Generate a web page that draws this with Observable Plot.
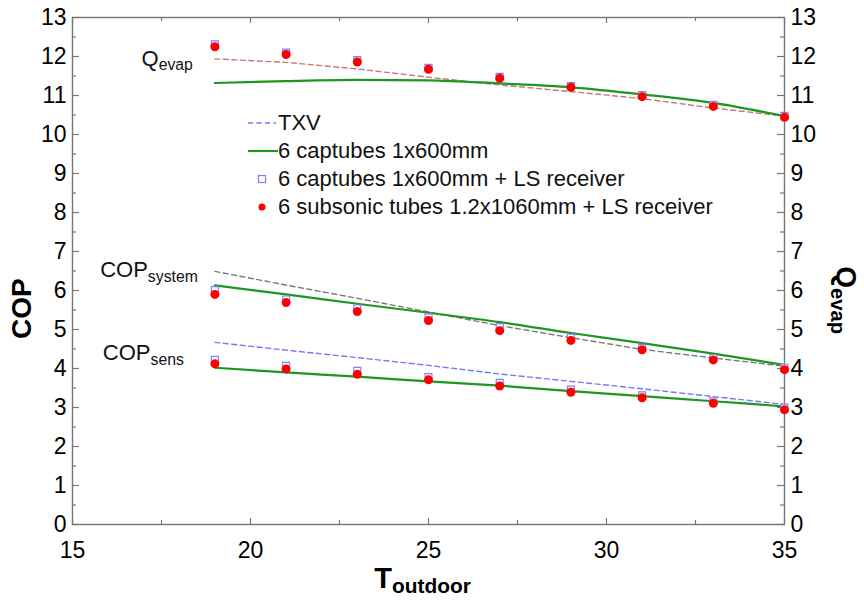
<!DOCTYPE html>
<html>
<head>
<meta charset="utf-8">
<script src="https://cdn.jsdelivr.net/npm/d3@7"></script>
<script src="https://cdn.jsdelivr.net/npm/@observablehq/plot@0.6"></script>
<style>
  html, body { margin: 0; padding: 0; background: #fff; }
  #wrap { position: relative; width: 864px; height: 605px; }
  #legend { position: absolute; left: 248px; top: 109px; font-family: "Liberation Sans", Arial, sans-serif; font-size: 22px; color: #111; }
  #legend .row { display: flex; align-items: center; height: 28px; white-space: nowrap; }
  #legend svg { flex: none; }
</style>
</head>
<body>
<div id="wrap"></div>
<script>
// ---- data ----
const temps = [19, 21, 23, 25, 27, 29, 31, 33, 35];

const qevapTXV   = [11.94, 11.85, 11.68, 11.47, 11.27, 11.10, 10.92, 10.68, 10.47];
const qevapCap   = [11.32, 11.37, 11.40, 11.39, 11.31, 11.21, 11.03, 10.81, 10.47];
const qevapCapLS = [12.31, 12.10, 11.91, 11.71, 11.48, 11.24, 11.01, 10.76, 10.48];
const qevapSub   = [12.25, 12.05, 11.86, 11.67, 11.44, 11.21, 10.97, 10.72, 10.44];

const copSysTXV   = [6.49, 6.14, 5.80, 5.45, 5.10, 4.79, 4.49, 4.27, 4.06];
const copSysCap   = [6.13, 5.90, 5.66, 5.43, 5.19, 4.91, 4.65, 4.38, 4.09];
const copSysCapLS = [6.01, 5.77, 5.54, 5.31, 5.06, 4.79, 4.53, 4.27, 4.02];
const copSysSub   = [5.90, 5.69, 5.46, 5.23, 4.97, 4.72, 4.48, 4.22, 3.97];

const copSensTXV   = [4.67, 4.47, 4.28, 4.08, 3.86, 3.67, 3.48, 3.28, 3.08];
const copSensCap   = [4.02, 3.90, 3.79, 3.67, 3.56, 3.42, 3.29, 3.16, 3.03];
const copSensCapLS = [4.22, 4.07, 3.94, 3.78, 3.63, 3.46, 3.31, 3.16, 3.00];
const copSensSub   = [4.12, 3.99, 3.85, 3.71, 3.55, 3.39, 3.25, 3.11, 2.94];

const yTicks = d3.range(0, 14);
const yMinor = d3.range(0.5, 13, 1);
const xTicks = [15, 20, 25, 30, 35];
const xMinor = [17.5, 22.5, 27.5, 32.5];

const curveLabels = ["Q_evap", "COP_system", "COP_sens"];
const legendLabels = ["TXV", "6 captubes 1x600mm", "6 captubes 1x600mm + LS receiver", "6 subsonic tubes 1.2x1060mm + LS receiver"];
const xLabel = "T_outdoor";
const yLabel = "COP";
const y2Label = "Q_evap";

// ---- build ----
const rows = arr => temps.map((t, i) => ({t, v: arr[i]}));

const W = 864, H = 605, ML = 72, MR = 80, MT = 17, MB = 81;
const PW = W - ML - MR, PH = H - MT - MB;
const axisColor = "#777";
const green = "#1f961f";
const dash = "5,3.5";

function annotation(series, label, dx, dy) {
  return Plot.text([{t: temps[0], v: series[0], label}], {
    x: "t", y: "v", text: "label", dx, dy,
    textAnchor: "end", lineAnchor: "middle", fontSize: 22, fill: "#111"
  });
}

const chart = Plot.plot({
  width: W, height: H,
  marginLeft: ML, marginRight: MR, marginTop: MT, marginBottom: MB,
  x: {domain: [15, 35]},
  y: {domain: [0, 13]},
  style: {fontFamily: "'Liberation Sans', Arial, sans-serif", fontSize: "23px", color: "#000", background: "#fff"},
  marks: [
    // inward ticks
    Plot.ruleY(yTicks, {y: d => d, insetRight: PW - 7, stroke: axisColor, strokeWidth: 1.2}),
    Plot.ruleY(yMinor, {y: d => d, insetRight: PW - 4, stroke: axisColor, strokeWidth: 1.2}),
    Plot.ruleY(yTicks, {y: d => d, insetLeft: PW - 7, stroke: axisColor, strokeWidth: 1.2}),
    Plot.ruleY(yMinor, {y: d => d, insetLeft: PW - 4, stroke: axisColor, strokeWidth: 1.2}),
    Plot.ruleX(xTicks, {x: d => d, insetTop: PH - 6, stroke: axisColor, strokeWidth: 1.2}),
    Plot.ruleX(xMinor, {x: d => d, insetTop: PH - 4, stroke: axisColor, strokeWidth: 1.2}),
    Plot.ruleX(xTicks, {x: d => d, insetBottom: PH - 6, stroke: axisColor, strokeWidth: 1.2}),
    Plot.ruleX(xMinor, {x: d => d, insetBottom: PH - 4, stroke: axisColor, strokeWidth: 1.2}),
    Plot.frame({stroke: axisColor, strokeWidth: 1.4}),
    Plot.axisY({ticks: yTicks, anchor: "left", tickSize: 0, tickPadding: 6, label: null, fontSize: 23}),
    Plot.axisY({ticks: yTicks, anchor: "right", tickSize: 0, tickPadding: 6, label: null, fontSize: 23}),
    Plot.axisX({ticks: xTicks, anchor: "bottom", tickSize: 0, tickPadding: 17, label: null, fontSize: 23}),

    // TXV dashed
    Plot.line(rows(qevapTXV),   {x: "t", y: "v", stroke: "#c97878", strokeWidth: 1.4, strokeDasharray: dash}),
    Plot.line(rows(copSysTXV),  {x: "t", y: "v", stroke: "#7a7a7a", strokeWidth: 1.4, strokeDasharray: dash}),
    Plot.line(rows(copSensTXV), {x: "t", y: "v", stroke: "#7878f5", strokeWidth: 1.4, strokeDasharray: dash}),

    // captubes green
    Plot.line(rows(qevapCap),   {x: "t", y: "v", stroke: green, strokeWidth: 2.2, curve: "monotone-x"}),
    Plot.line(rows(copSysCap),  {x: "t", y: "v", stroke: green, strokeWidth: 2.2, curve: "monotone-x"}),
    Plot.line(rows(copSensCap), {x: "t", y: "v", stroke: green, strokeWidth: 2.2, curve: "monotone-x"}),

    // captubes + LS receiver (open squares)
    ...[qevapCapLS, copSysCapLS, copSensCapLS].map(a =>
      Plot.dot(rows(a), {x: "t", y: "v", symbol: "square", r: 3.9, stroke: "#7f7fff", strokeWidth: 1.2, fill: "#fff"})),

    // subsonic tubes (red dots)
    ...[qevapSub, copSysSub, copSensSub].map(a =>
      Plot.dot(rows(a), {x: "t", y: "v", r: 4.5, fill: "#ff0000", stroke: "none"})),

    // curve annotations
    annotation(qevapTXV, curveLabels[0], -22, 0),
    annotation(copSysTXV, curveLabels[1], -17, -1),
    annotation(copSensTXV, curveLabels[2], -31, 11),

    // axis titles
    Plot.text([yLabel], {frameAnchor: "left", dx: -50, dy: 68, rotate: -90, fontWeight: "bold", fontSize: 28, fill: "#000"}),
    Plot.text([y2Label], {frameAnchor: "right", dx: 61, dy: 63, rotate: 90, fontWeight: "bold", fontSize: 28, fill: "#000"}),
    Plot.text([xLabel], {frameAnchor: "bottom", dx: -6, dy: 63, fontWeight: "bold", fontSize: 29, fill: "#000"})
  ]
});

const wrap = document.getElementById("wrap");
wrap.appendChild(chart);

// subscripts: split "base_sub" into two tspans
const NS = "http://www.w3.org/2000/svg";
chart.querySelectorAll("text").forEach(t => {
  const s = t.textContent;
  if (!s.includes("_")) return;
  const [a, b] = s.split("_");
  const fs = parseFloat(getComputedStyle(t).fontSize) || 22;
  t.textContent = "";
  const t1 = document.createElementNS(NS, "tspan");
  t1.textContent = a;
  const t2 = document.createElementNS(NS, "tspan");
  t2.textContent = b;
  t2.setAttribute("font-size", (fs * 0.72).toFixed(1));
  t2.setAttribute("dy", (fs * 0.2).toFixed(1));
  t.appendChild(t1);
  t.appendChild(t2);
});

// legend
const legend = document.createElement("div");
legend.id = "legend";
const mk = (tag, attrs) => { const e = document.createElementNS(NS, tag); for (const k in attrs) e.setAttribute(k, attrs[k]); return e; };
const symbols = [
  g => g.appendChild(mk("line", {x1: 0, x2: 28, y1: 14, y2: 14, stroke: "#7878f5", "stroke-width": 1.4, "stroke-dasharray": dash})),
  g => g.appendChild(mk("line", {x1: 0, x2: 30, y1: 14, y2: 14, stroke: green, "stroke-width": 2.2})),
  g => g.appendChild(mk("rect", {x: 10.5, y: 10.5, width: 7, height: 7, fill: "#fff", stroke: "#7f7fff", "stroke-width": 1.2})),
  g => g.appendChild(mk("circle", {cx: 14, cy: 14, r: 3.5, fill: "#ff0000"}))
];
legendLabels.forEach((lab, i) => {
  const row = document.createElement("div");
  row.className = "row";
  const svg = mk("svg", {width: 30, height: 28});
  symbols[i](svg);
  const span = document.createElement("span");
  span.textContent = lab;
  row.appendChild(svg); row.appendChild(span);
  legend.appendChild(row);
});
wrap.appendChild(legend);
</script>
</body>
</html>
